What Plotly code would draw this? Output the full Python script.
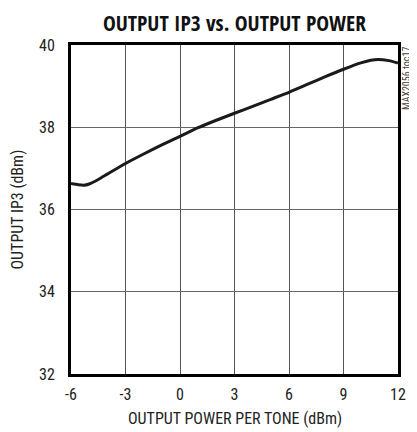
import plotly.graph_objects as go

power = [-6.0, -5.6, -5.3, -5.0, -4.5, -4.0, -3.0, -2.0, -1.0, 0.0, 1.0, 2.0, 3.0, 4.0, 5.0, 6.0, 7.0, 8.0, 9.0, 10.0, 10.5, 10.9, 11.5, 12.0]
ip3 = [36.63, 36.60, 36.59, 36.62, 36.73, 36.86, 37.12, 37.35, 37.57, 37.78, 37.99, 38.17, 38.34, 38.51, 38.68, 38.85, 39.04, 39.23, 39.41, 39.57, 39.63, 39.65, 39.62, 39.56]
xticks = [-6, -3, 0, 3, 6, 9, 12]
yticks = [32, 34, 36, 38, 40]
x_title = "OUTPUT POWER PER TONE (dBm)"
y_title = "OUTPUT IP3 (dBm)"
chart_title = "OUTPUT IP3 vs. OUTPUT POWER"
code_label = "MAX2056 toc17"

FONT = "Roboto Condensed, sans-serif"
TFONT = "Open Sans Condensed, Roboto Condensed, sans-serif"

fig = go.Figure()
fig.add_trace(go.Scatter(x=power, y=ip3, mode="lines",
                         line=dict(color="#1a1a1a", width=3, shape="spline", smoothing=0.6),
                         showlegend=False, hoverinfo="skip"))

fig.update_layout(
    width=417, height=432,
    margin=dict(l=63, r=27, t=37, b=66),
    paper_bgcolor="white", plot_bgcolor="white",
    font=dict(family=FONT, size=16, color="#222"),
    title=dict(text="<b>" + chart_title + "</b>", x=0.543, xanchor="center",
               y=1 - 15 / 432, yanchor="middle",
               font=dict(family=TFONT, size=21.5, color="#111")),
    xaxis=dict(range=[-6, 12], tickvals=xticks, ticktext=[str(v) for v in xticks],
               showgrid=True, gridcolor="#555", gridwidth=1, zeroline=False,
               showline=True, linecolor="black", linewidth=3, mirror=True,
               ticks="", ticklen=0, ticklabelstandoff=4, automargin=False),
    yaxis=dict(range=[32, 40], tickvals=yticks, ticktext=[str(v) for v in yticks],
               showgrid=True, gridcolor="#666", gridwidth=1, zeroline=False,
               showline=True, linecolor="black", linewidth=3, mirror=True,
               ticks="", ticklen=0, ticklabelstandoff=10, automargin=False),
)

fig.add_annotation(text=x_title, xref="paper", yref="paper", x=0.5, y=0,
                   xanchor="center", yanchor="middle", yshift=-44, showarrow=False,
                   font=dict(family=FONT, size=16, color="#222"))
fig.add_annotation(text=y_title, xref="paper", yref="paper", x=0, y=0.5,
                   xanchor="center", yanchor="middle", xshift=-54, textangle=-90,
                   showarrow=False, font=dict(family=FONT, size=16, color="#222"))
fig.add_annotation(text=code_label, xref="paper", yref="paper",
                   x=1.0, y=1.0, xanchor="left", yanchor="top", xshift=1,
                   textangle=-90, showarrow=False,
                   font=dict(family=FONT, size=10, color="#444"))

fig.write_html("out.html")
